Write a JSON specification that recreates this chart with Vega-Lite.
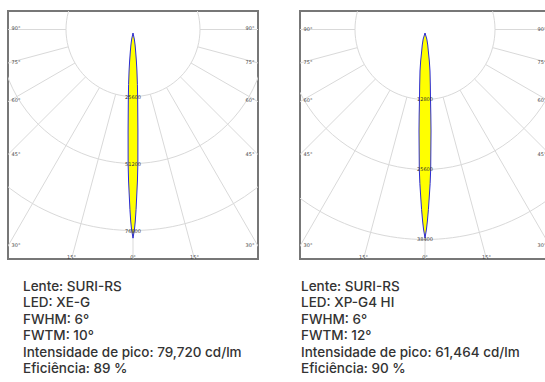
{
"$schema": "https://vega.github.io/schema/vega-lite/v6.json",
"padding": {"left": 7, "top": 10, "right": 0, "bottom": 0},
"spacing": 40,
"config": {
 "view": {"stroke": "#777777", "strokeWidth": 2},
 "axis": {"disable": true},
 "title": {"orient": "bottom", "anchor": "start", "font": "Inter", "fontSize": 13.5, "fontWeight": 500, "color": "#333333", "lineHeight": 16.5, "baseline": "top", "offset": 20}
},
"datasets": {
 "ringsL": [
  {"g":1,"i":0,"x":-22170,"y":-12800},{"g":1,"i":1,"x":-24728,"y":-6626},{"g":1,"i":2,"x":-25600,"y":0},{"g":1,"i":3,"x":-24728,"y":6626},{"g":1,"i":4,"x":-22170,"y":12800},{"g":1,"i":5,"x":-18102,"y":18102},{"g":1,"i":6,"x":-12800,"y":22170},{"g":1,"i":7,"x":-6626,"y":24728},{"g":1,"i":8,"x":0,"y":25600},{"g":1,"i":9,"x":6626,"y":24728},{"g":1,"i":10,"x":12800,"y":22170},{"g":1,"i":11,"x":18102,"y":18102},{"g":1,"i":12,"x":22170,"y":12800},{"g":1,"i":13,"x":24728,"y":6626},{"g":1,"i":14,"x":25600,"y":0},{"g":1,"i":15,"x":24728,"y":-6626},{"g":1,"i":16,"x":22170,"y":-12800},
  {"g":2,"i":0,"x":-44341,"y":-25600},{"g":2,"i":1,"x":-49455,"y":-13252},{"g":2,"i":2,"x":-51200,"y":0},{"g":2,"i":3,"x":-49455,"y":13252},{"g":2,"i":4,"x":-44341,"y":25600},{"g":2,"i":5,"x":-36204,"y":36204},{"g":2,"i":6,"x":-25600,"y":44341},{"g":2,"i":7,"x":-13252,"y":49455},{"g":2,"i":8,"x":0,"y":51200},{"g":2,"i":9,"x":13252,"y":49455},{"g":2,"i":10,"x":25600,"y":44341},{"g":2,"i":11,"x":36204,"y":36204},{"g":2,"i":12,"x":44341,"y":25600},{"g":2,"i":13,"x":49455,"y":13252},{"g":2,"i":14,"x":51200,"y":0},{"g":2,"i":15,"x":49455,"y":-13252},{"g":2,"i":16,"x":44341,"y":-25600},
  {"g":3,"i":0,"x":-66511,"y":-38400},{"g":3,"i":1,"x":-74183,"y":-19877},{"g":3,"i":2,"x":-76800,"y":0},{"g":3,"i":3,"x":-74183,"y":19877},{"g":3,"i":4,"x":-66511,"y":38400},{"g":3,"i":5,"x":-54306,"y":54306},{"g":3,"i":6,"x":-38400,"y":66511},{"g":3,"i":7,"x":-19877,"y":74183},{"g":3,"i":8,"x":0,"y":76800},{"g":3,"i":9,"x":19877,"y":74183},{"g":3,"i":10,"x":38400,"y":66511},{"g":3,"i":11,"x":54306,"y":54306},{"g":3,"i":12,"x":66511,"y":38400},{"g":3,"i":13,"x":74183,"y":19877},{"g":3,"i":14,"x":76800,"y":0},{"g":3,"i":15,"x":74183,"y":-19877},{"g":3,"i":16,"x":66511,"y":-38400}
 ],
 "ringsR": [
  {"g":1,"i":0,"x":-11085,"y":-6400},{"g":1,"i":1,"x":-12364,"y":-3313},{"g":1,"i":2,"x":-12800,"y":0},{"g":1,"i":3,"x":-12364,"y":3313},{"g":1,"i":4,"x":-11085,"y":6400},{"g":1,"i":5,"x":-9051,"y":9051},{"g":1,"i":6,"x":-6400,"y":11085},{"g":1,"i":7,"x":-3313,"y":12364},{"g":1,"i":8,"x":0,"y":12800},{"g":1,"i":9,"x":3313,"y":12364},{"g":1,"i":10,"x":6400,"y":11085},{"g":1,"i":11,"x":9051,"y":9051},{"g":1,"i":12,"x":11085,"y":6400},{"g":1,"i":13,"x":12364,"y":3313},{"g":1,"i":14,"x":12800,"y":0},{"g":1,"i":15,"x":12364,"y":-3313},{"g":1,"i":16,"x":11085,"y":-6400},
  {"g":2,"i":0,"x":-22170,"y":-12800},{"g":2,"i":1,"x":-24728,"y":-6626},{"g":2,"i":2,"x":-25600,"y":0},{"g":2,"i":3,"x":-24728,"y":6626},{"g":2,"i":4,"x":-22170,"y":12800},{"g":2,"i":5,"x":-18102,"y":18102},{"g":2,"i":6,"x":-12800,"y":22170},{"g":2,"i":7,"x":-6626,"y":24728},{"g":2,"i":8,"x":0,"y":25600},{"g":2,"i":9,"x":6626,"y":24728},{"g":2,"i":10,"x":12800,"y":22170},{"g":2,"i":11,"x":18102,"y":18102},{"g":2,"i":12,"x":22170,"y":12800},{"g":2,"i":13,"x":24728,"y":6626},{"g":2,"i":14,"x":25600,"y":0},{"g":2,"i":15,"x":24728,"y":-6626},{"g":2,"i":16,"x":22170,"y":-12800},
  {"g":3,"i":0,"x":-33255,"y":-19200},{"g":3,"i":1,"x":-37092,"y":-9939},{"g":3,"i":2,"x":-38400,"y":0},{"g":3,"i":3,"x":-37092,"y":9939},{"g":3,"i":4,"x":-33255,"y":19200},{"g":3,"i":5,"x":-27153,"y":27153},{"g":3,"i":6,"x":-19200,"y":33255},{"g":3,"i":7,"x":-9939,"y":37092},{"g":3,"i":8,"x":0,"y":38400},{"g":3,"i":9,"x":9939,"y":37092},{"g":3,"i":10,"x":19200,"y":33255},{"g":3,"i":11,"x":27153,"y":27153},{"g":3,"i":12,"x":33255,"y":19200},{"g":3,"i":13,"x":37092,"y":9939},{"g":3,"i":14,"x":38400,"y":0},{"g":3,"i":15,"x":37092,"y":-9939},{"g":3,"i":16,"x":33255,"y":-19200}
 ],
 "raysL": [
  {"x":0,"y":25600,"x2":0,"y2":128000},
  {"x":6626,"y":24728,"x2":33129,"y2":123639},{"x":-6626,"y":24728,"x2":-33129,"y2":123639},
  {"x":12800,"y":22170,"x2":64000,"y2":110851},{"x":-12800,"y":22170,"x2":-64000,"y2":110851},
  {"x":18102,"y":18102,"x2":90510,"y2":90510},{"x":-18102,"y":18102,"x2":-90510,"y2":90510},
  {"x":22170,"y":12800,"x2":110851,"y2":64000},{"x":-22170,"y":12800,"x2":-110851,"y2":64000},
  {"x":24728,"y":6626,"x2":123639,"y2":33129},{"x":-24728,"y":6626,"x2":-123639,"y2":33129},
  {"x":25600,"y":0,"x2":128000,"y2":0},{"x":-25600,"y":0,"x2":-128000,"y2":0}
 ],
 "raysR": [
  {"x":0,"y":12800,"x2":0,"y2":64000},
  {"x":3313,"y":12364,"x2":16565,"y2":61819},{"x":-3313,"y":12364,"x2":-16565,"y2":61819},
  {"x":6400,"y":11085,"x2":32000,"y2":55426},{"x":-6400,"y":11085,"x2":-32000,"y2":55426},
  {"x":9051,"y":9051,"x2":45255,"y2":45255},{"x":-9051,"y":9051,"x2":-45255,"y2":45255},
  {"x":11085,"y":6400,"x2":55426,"y2":32000},{"x":-11085,"y":6400,"x2":-55426,"y2":32000},
  {"x":12364,"y":3313,"x2":61819,"y2":16565},{"x":-12364,"y":3313,"x2":-61819,"y2":16565},
  {"x":12800,"y":0,"x2":64000,"y2":0},{"x":-12800,"y":0,"x2":-64000,"y2":0}
 ],
 "lobeL": [
  {"y":1337,"lo":0,"hi":0},{"y":3630,"lo":-500,"hi":500},{"y":8215,"lo":-1000,"hi":1000},{"y":15857,"lo":-1500,"hi":1500},{"y":26174,"lo":-1780,"hi":1780},{"y":38783,"lo":-1880,"hi":1880},{"y":51392,"lo":-1860,"hi":1860},{"y":64384,"lo":-1380,"hi":1380},{"y":73172,"lo":-879,"hi":879},{"y":76229,"lo":-573,"hi":573},{"y":79720,"lo":0,"hi":0}
 ],
 "lobeR": [
  {"y":640,"lo":0,"hi":0},{"y":1737,"lo":-329,"hi":329},{"y":3931,"lo":-603,"hi":603},{"y":7589,"lo":-914,"hi":914},{"y":12709,"lo":-1006,"hi":1006},{"y":18560,"lo":-1097,"hi":1097},{"y":25509,"lo":-1042,"hi":1042},{"y":30812,"lo":-768,"hi":768},{"y":35018,"lo":-439,"hi":439},{"y":36481,"lo":-274,"hi":274},{"y":38126,"lo":0,"hi":0}
 ],
 "ticksL": [{"x":0,"y":25600,"t":"25600"},{"x":0,"y":51200,"t":"51200"},{"x":0,"y":76800,"t":"76800"}],
 "ticksR": [{"x":0,"y":12800,"t":"12800"},{"x":0,"y":25600,"t":"25600"},{"x":0,"y":38400,"t":"38400"}],
 "angL": [
  {"x":-44700,"y":-688,"t":"90°"},{"x":-44700,"y":12418,"t":"75°"},{"x":-44700,"y":27053,"t":"60°"},{"x":-44700,"y":47457,"t":"45°"},{"x":-44700,"y":82343,"t":"30°"},
  {"x":44700,"y":-688,"t":"90°"},{"x":44700,"y":12418,"t":"75°"},{"x":44700,"y":27053,"t":"60°"},{"x":44700,"y":47457,"t":"45°"},{"x":44700,"y":82343,"t":"30°"},
  {"x":-23499,"y":86813,"t":"15°"},{"x":0,"y":86813,"t":"0°"},{"x":23499,"y":86813,"t":"15°"}
 ],
 "angR": [
  {"x":-21395,"y":-146,"t":"90°"},{"x":-21395,"y":5943,"t":"75°"},{"x":-21395,"y":12946,"t":"60°"},{"x":-21395,"y":22711,"t":"45°"},{"x":-21395,"y":39406,"t":"30°"},
  {"x":21395,"y":-146,"t":"90°"},{"x":21395,"y":5943,"t":"75°"},{"x":21395,"y":12946,"t":"60°"},{"x":21395,"y":22711,"t":"45°"},{"x":21395,"y":39406,"t":"30°"},
  {"x":-11246,"y":41546,"t":"15°"},{"x":0,"y":41546,"t":"0°"},{"x":11246,"y":41546,"t":"15°"}
 ]
},
"hconcat": [
 {
  "width": 250, "height": 248,
  "title": {"text": ["Lente: SURI-RS", "LED: XE-G", "FWHM: 6°", "FWTM: 10°", "Intensidade de pico: 79,720 cd/lm", "Eficiência: 89 %"], "dx": 15},
  "layer": [
   {"data": {"name": "ringsL"}, "mark": {"type": "line", "interpolate": "catmull-rom", "stroke": "#d9d9d9", "strokeWidth": 1, "clip": true},
    "encoding": {"x": {"field": "x", "type": "quantitative", "scale": {"domain": [-47761, 47761], "nice": false, "zero": false}},
                 "y": {"field": "y", "type": "quantitative", "scale": {"domain": [-7069, 87689], "reverse": true, "nice": false, "zero": false}},
                 "detail": {"field": "g"}, "order": {"field": "i", "type": "quantitative"}}},
   {"data": {"name": "raysL"}, "mark": {"type": "rule", "stroke": "#d9d9d9", "strokeWidth": 1, "clip": true},
    "encoding": {"x": {"field": "x", "type": "quantitative", "scale": {"domain": [-47761, 47761], "nice": false, "zero": false}},
                 "y": {"field": "y", "type": "quantitative", "scale": {"domain": [-7069, 87689], "reverse": true, "nice": false, "zero": false}},
                 "x2": {"field": "x2"}, "y2": {"field": "y2"}}},
   {"data": {"name": "lobeL"}, "mark": {"type": "area", "orient": "horizontal", "interpolate": "monotone", "fill": "#ffff00", "fillOpacity": 1, "stroke": "#2a2ad6", "strokeWidth": 1, "clip": true},
    "encoding": {"y": {"field": "y", "type": "quantitative", "scale": {"domain": [-7069, 87689], "reverse": true, "nice": false, "zero": false}},
                 "x": {"field": "lo", "type": "quantitative", "scale": {"domain": [-47761, 47761], "nice": false, "zero": false}},
                 "x2": {"field": "hi"}}},
   {"data": {"name": "ticksL"}, "mark": {"type": "text", "font": "DejaVu Sans", "fontSize": 5, "color": "#333333", "baseline": "middle", "align": "center"},
    "encoding": {"x": {"field": "x", "type": "quantitative", "scale": {"domain": [-47761, 47761], "nice": false, "zero": false}},
                 "y": {"field": "y", "type": "quantitative", "scale": {"domain": [-7069, 87689], "reverse": true, "nice": false, "zero": false}},
                 "text": {"field": "t"}}},
   {"data": {"name": "angL"}, "mark": {"type": "text", "font": "DejaVu Sans", "fontSize": 5, "color": "#444444", "baseline": "middle", "align": "center"},
    "encoding": {"x": {"field": "x", "type": "quantitative", "scale": {"domain": [-47761, 47761], "nice": false, "zero": false}},
                 "y": {"field": "y", "type": "quantitative", "scale": {"domain": [-7069, 87689], "reverse": true, "nice": false, "zero": false}},
                 "text": {"field": "t"}}}
  ]
 },
 {
  "width": 248, "height": 248,
  "title": {"text": ["Lente: SURI-RS", "LED: XP-G4 HI", "FWHM: 6°", "FWTM: 12°", "Intensidade de pico: 61,464 cd/lm", "Eficiência: 90 %"], "dx": 1},
  "layer": [
   {"data": {"name": "ringsR"}, "mark": {"type": "line", "interpolate": "catmull-rom", "stroke": "#d9d9d9", "strokeWidth": 1, "clip": true},
    "encoding": {"x": {"field": "x", "type": "quantitative", "scale": {"domain": [-22857, 22491], "nice": false, "zero": false}},
                 "y": {"field": "y", "type": "quantitative", "scale": {"domain": [-3383, 41966], "reverse": true, "nice": false, "zero": false}},
                 "detail": {"field": "g"}, "order": {"field": "i", "type": "quantitative"}}},
   {"data": {"name": "raysR"}, "mark": {"type": "rule", "stroke": "#d9d9d9", "strokeWidth": 1, "clip": true},
    "encoding": {"x": {"field": "x", "type": "quantitative", "scale": {"domain": [-22857, 22491], "nice": false, "zero": false}},
                 "y": {"field": "y", "type": "quantitative", "scale": {"domain": [-3383, 41966], "reverse": true, "nice": false, "zero": false}},
                 "x2": {"field": "x2"}, "y2": {"field": "y2"}}},
   {"data": {"name": "lobeR"}, "mark": {"type": "area", "orient": "horizontal", "interpolate": "monotone", "fill": "#ffff00", "fillOpacity": 1, "stroke": "#2a2ad6", "strokeWidth": 1, "clip": true},
    "encoding": {"y": {"field": "y", "type": "quantitative", "scale": {"domain": [-3383, 41966], "reverse": true, "nice": false, "zero": false}},
                 "x": {"field": "lo", "type": "quantitative", "scale": {"domain": [-22857, 22491], "nice": false, "zero": false}},
                 "x2": {"field": "hi"}}},
   {"data": {"name": "ticksR"}, "mark": {"type": "text", "font": "DejaVu Sans", "fontSize": 5, "color": "#333333", "baseline": "middle", "align": "center"},
    "encoding": {"x": {"field": "x", "type": "quantitative", "scale": {"domain": [-22857, 22491], "nice": false, "zero": false}},
                 "y": {"field": "y", "type": "quantitative", "scale": {"domain": [-3383, 41966], "reverse": true, "nice": false, "zero": false}},
                 "text": {"field": "t"}}},
   {"data": {"name": "angR"}, "mark": {"type": "text", "font": "DejaVu Sans", "fontSize": 5, "color": "#444444", "baseline": "middle", "align": "center"},
    "encoding": {"x": {"field": "x", "type": "quantitative", "scale": {"domain": [-22857, 22491], "nice": false, "zero": false}},
                 "y": {"field": "y", "type": "quantitative", "scale": {"domain": [-3383, 41966], "reverse": true, "nice": false, "zero": false}},
                 "text": {"field": "t"}}}
  ]
 }
]
}
